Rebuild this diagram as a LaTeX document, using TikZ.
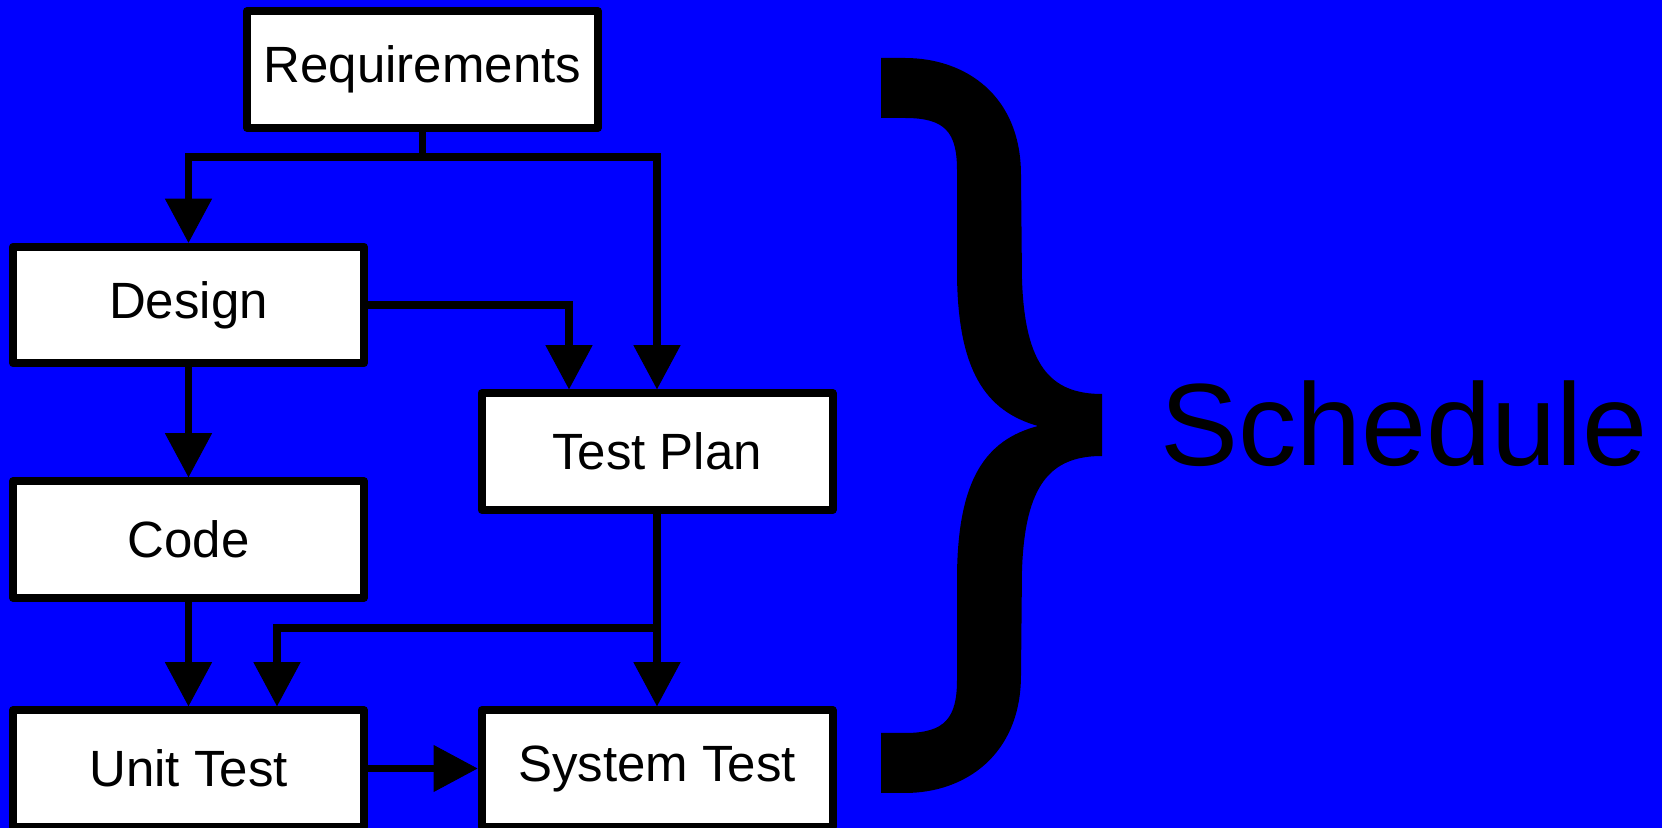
\documentclass[tikz,border=0pt]{standalone}
\usepackage{fontspec}
\setmainfont{Liberation Sans}
\usetikzlibrary{arrows.meta,calc}

\begin{document}
\begin{tikzpicture}[x=0.5pt,y=-0.5pt,
  stagebox/.style={draw=black,fill=white,line width=4pt,line join=round,
    minimum width=175.5pt,minimum height=58.25pt,inner sep=0pt,
    font=\fontsize{25.5pt}{30pt}\selectfont},
  flow/.style={line width=3.75pt,
    -{Triangle[length=22pt,width=23.5pt,line width=0.5pt]}},
  link/.style={line width=3.75pt}]

% background
\fill[blue] (0,0) rectangle (1662,828);
\useasboundingbox (0,0) rectangle (1662,828);

% stages
\node[stagebox] (req) at (422.5,69.5) {Requirements};
\node[stagebox] (des) at (188.5,305)  {Design};
\node[stagebox] (tp)  at (657,451.5)  {Test Plan};
\node[stagebox] (cod) at (188.5,539.5) {Code};
\node[stagebox] (ut)  at (188.5,768.5) {Unit Test};
\node[stagebox] (st)  at (657,768.5)  {System Test};

% junction points
\coordinate (j1) at (422.5,157);
\coordinate (j2) at (657,628);

% requirements fan-out
\draw[link] (req.south) -- (j1);
\draw[flow] (j1) -| (des.north);
\draw[flow] (j1) -| (tp.north);

% design outputs
\draw[flow] (des.east) -| ($(tp.north)+(-88,0)$);
\draw[flow] (des.south) -- (cod.north);

% code to unit test
\draw[flow] (cod.south) -- (ut.north);

% test plan outputs
\draw[flow] (tp.south) -- (st.north);
\draw[flow] (j2) -| ($(ut.north)+(88.5,0)$);

% unit test to system test
\draw[flow] (ut.east) -- (st.west);

% brace
\fill[black] (881,58) -- (905,58)
  .. controls (965,58) and (1021,95) .. (1021,175)
  -- (1022,280)
  .. controls (1025,365) and (1050,394) .. (1102,394)
  -- (1102,456)
  .. controls (1050,456) and (1025,485) .. (1022,570)
  -- (1021,675)
  .. controls (1021,755) and (965,793) .. (905,793)
  -- (881,793) -- (881,733) -- (905,733)
  .. controls (945,733) and (957,718) .. (957,680)
  -- (957,575)
  .. controls (958,480) and (985,440) .. (1038,426)
  .. controls (985,411) and (958,370) .. (957,275)
  -- (957,170)
  .. controls (957,132) and (945,118) .. (905,118)
  -- (881,118) -- cycle;

% label
\node[anchor=base,inner sep=0pt,font=\fontsize{58.5pt}{70pt}\selectfont]
  (sched) at (1404,466) {Schedule};
\end{tikzpicture}
\end{document}
